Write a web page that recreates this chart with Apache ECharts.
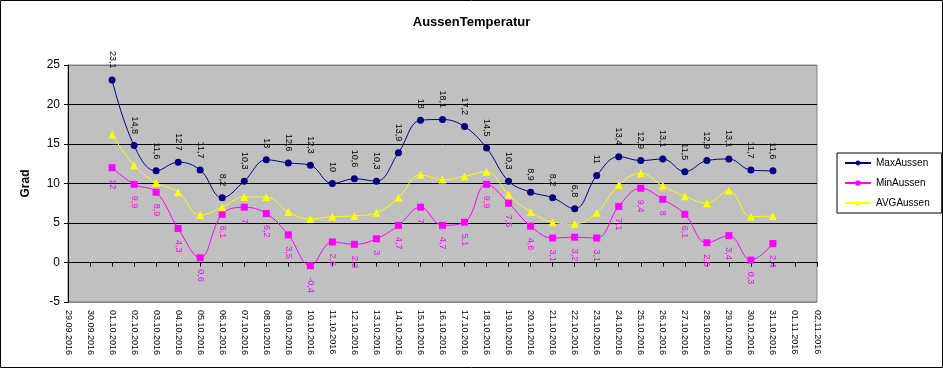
<!DOCTYPE html>
<html>
<head>
<meta charset="utf-8">
<script src="https://cdn.jsdelivr.net/npm/echarts@6/dist/echarts.min.js"></script>
<style>
html,body{margin:0;padding:0;background:#fff;}
#chart{width:943px;height:368px;}
</style>
</head>
<body>
<div id="chart"></div>
<script>
const categories = ['29.09.2016','30.09.2016','01.10.2016','02.10.2016','03.10.2016','04.10.2016','05.10.2016','06.10.2016','07.10.2016','08.10.2016','09.10.2016','10.10.2016','11.10.2016','12.10.2016','13.10.2016','14.10.2016','15.10.2016','16.10.2016','17.10.2016','18.10.2016','19.10.2016','20.10.2016','21.10.2016','22.10.2016','23.10.2016','24.10.2016','25.10.2016','26.10.2016','27.10.2016','28.10.2016','29.10.2016','30.10.2016','31.10.2016','01.11.2016','02.11.2016'];
const maxAussen = [null,null,23.1,14.8,11.6,12.7,11.7,8.2,10.3,13,12.6,12.3,10,10.6,10.3,13.9,18,18.1,17.2,14.5,10.3,8.9,8.2,6.8,11,13.4,12.9,13.1,11.5,12.9,13.1,11.7,11.6,null,null];
const minAussen = [null,null,12,9.9,8.9,4.3,0.6,6.1,7,6.2,3.5,-0.4,2.6,2.3,3,4.7,7,4.7,5.1,9.9,7.5,4.6,3.1,3.2,3.1,7.1,9.4,8,6.1,2.5,3.4,0.3,2.4,null,null];
const avgAussen = [null,null,16.2,12.3,10.1,8.9,6.0,7.0,8.3,8.3,6.4,5.5,5.8,5.9,6.3,8.2,11.1,10.5,10.9,11.5,8.6,6.4,5.1,4.9,6.3,9.8,11.3,9.7,8.4,7.5,9.1,5.8,5.9,null,null];
const yTicks = {min:-5, max:25, interval:5};

const FONT = "'Liberation Sans', Arial, sans-serif";
const fmt = p => String(p.value).replace('.', ',');

const chart = echarts.init(document.getElementById('chart'), null, {renderer:'canvas'});
chart.setOption({
  animation:false,
  backgroundColor:'#fff',
  textStyle:{fontFamily:FONT},
  title:{
    text:'AussenTemperatur', left:'center', top:11,
    textStyle:{fontFamily:FONT, fontSize:13, fontWeight:'bold', color:'#000'}
  },
  graphic:[{
    type:'rect', silent:true, z:-10,
    shape:{x:0.5,y:0.5,width:942,height:367},
    style:{fill:'none', stroke:'#000', lineWidth:1}
  }],
  legend:{
    orient:'vertical', left:837, top:153,
    padding:[5,12,5,7], itemWidth:26, itemHeight:6, itemGap:10,
    backgroundColor:'#fff', borderColor:'#000', borderWidth:1, borderRadius:0,
    textStyle:{fontFamily:FONT, fontSize:10, color:'#000'},
    data:['MaxAussen','MinAussen','AVGAussen']
  },
  grid:{
    left:68, right:126, top:65, bottom:66, containLabel:false,
    show:true, backgroundColor:'#C0C0C0', borderColor:'#808080', borderWidth:1
  },
  xAxis:[{
    type:'category', data:categories, boundaryGap:false, position:'bottom',
    axisLine:{show:false, onZero:false}, axisTick:{show:false},
    axisLabel:{rotate:-90, margin:8, fontSize:9, color:'#000', fontFamily:FONT, interval:0},
    splitLine:{show:false}
  },{
    type:'category', data:categories, boundaryGap:false, position:'top',
    axisLine:{show:true, onZero:true, lineStyle:{color:'#000', width:1}},
    axisTick:{show:true, inside:true, length:4, interval:0, lineStyle:{color:'#000'}},
    axisLabel:{show:false}, splitLine:{show:false}
  }],
  yAxis:{
    type:'value', min:yTicks.min, max:yTicks.max, interval:yTicks.interval,
    name:'Grad', nameLocation:'middle', nameGap:36, nameRotate:90,
    nameTextStyle:{fontFamily:FONT, fontSize:12, fontWeight:'bold', color:'#000'},
    axisLine:{show:true, lineStyle:{color:'#000'}},
    axisTick:{show:true, length:4, lineStyle:{color:'#000'}},
    axisLabel:{fontSize:12, color:'#000', margin:8, fontFamily:FONT},
    splitLine:{show:true, lineStyle:{color:['#808080','#000','#000','#000','#000','#000','#808080'], width:1}}
  },
  series:[{
    name:'MaxAussen', type:'line', data:maxAussen, smooth:0.4,
    symbol:'circle', symbolSize:7, showAllSymbol:true,
    lineStyle:{color:'#000080', width:1}, itemStyle:{color:'#000080'},
    label:{show:true, position:'top', distance:8, rotate:-90, align:'right', verticalAlign:'middle',
      formatter:fmt, fontSize:9, color:'#000', fontFamily:FONT}
  },{
    name:'MinAussen', type:'line', data:minAussen, smooth:0.4,
    symbol:'rect', symbolSize:7, showAllSymbol:true,
    lineStyle:{color:'#FF00FF', width:1}, itemStyle:{color:'#FF00FF'},
    label:{show:true, position:'bottom', distance:8, rotate:-90, align:'left', verticalAlign:'middle',
      formatter:fmt, fontSize:9, color:'#FF00FF', fontFamily:FONT}
  },{
    name:'AVGAussen', type:'line', data:avgAussen, smooth:0.4,
    symbol:'triangle', symbolSize:8, showAllSymbol:true,
    lineStyle:{color:'#FFFF00', width:1}, itemStyle:{color:'#FFFF00'},
    label:{show:false}
  }]
});
</script>
</body>
</html>
